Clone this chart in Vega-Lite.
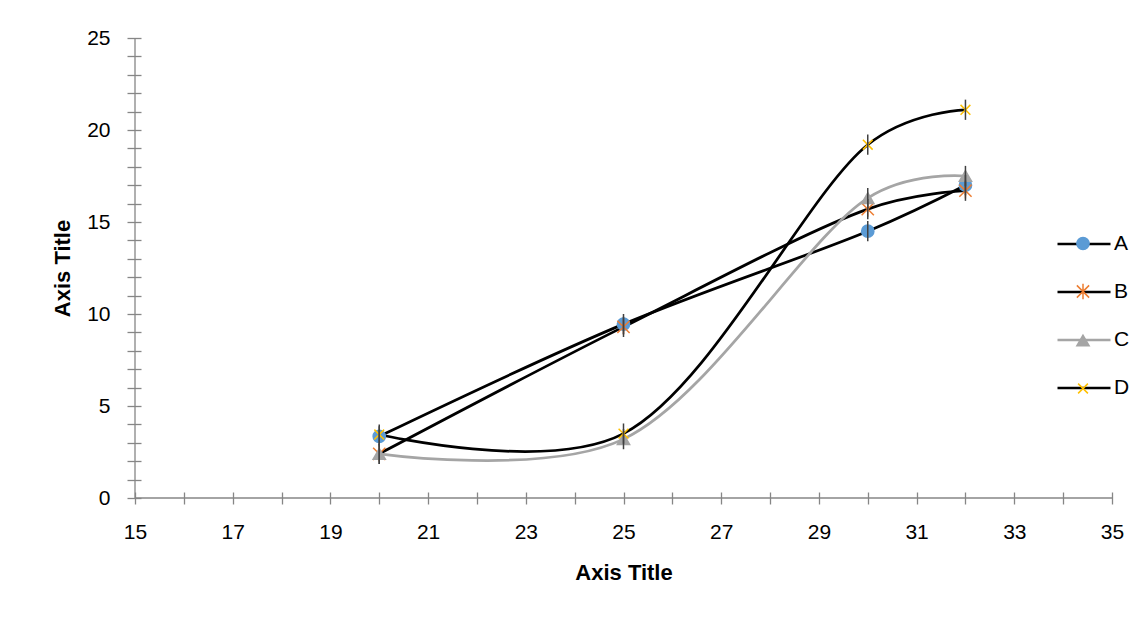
{
  "$schema": "https://vega.github.io/schema/vega-lite/v6.json",
  "width": 977,
  "height": 460,
  "autosize": "none",
  "padding": {"left": 135, "top": 38, "right": 33, "bottom": 121},
  "background": "white",
  "config": {"view": {"stroke": null}, "font": "Liberation Sans"},
  "data": {"values": [
    {"s": "A", "x": 20, "y": 3.35, "err": 0.55},
    {"s": "A", "x": 25, "y": 9.45, "err": 0.55},
    {"s": "A", "x": 30, "y": 14.5, "err": 0.55},
    {"s": "A", "x": 32, "y": 17.0, "err": 0.55},
    {"s": "B", "x": 20, "y": 2.4, "err": 0.55},
    {"s": "B", "x": 25, "y": 9.3, "err": 0.55},
    {"s": "B", "x": 30, "y": 15.7, "err": 0.55},
    {"s": "B", "x": 32, "y": 16.7, "err": 0.55},
    {"s": "C", "x": 20, "y": 2.4, "err": 0.55},
    {"s": "C", "x": 25, "y": 3.2, "err": 0.55},
    {"s": "C", "x": 30, "y": 16.3, "err": 0.55},
    {"s": "C", "x": 32, "y": 17.5, "err": 0.55},
    {"s": "D", "x": 20, "y": 3.45, "err": 0.55},
    {"s": "D", "x": 25, "y": 3.5, "err": 0.55},
    {"s": "D", "x": 30, "y": 19.2, "err": 0.55},
    {"s": "D", "x": 32, "y": 21.1, "err": 0.55}
  ]},
  "layer": [
    {
      "mark": {"type": "line", "interpolate": "catmull-rom", "tension": 0.3, "strokeWidth": 2.75},
      "encoding": {
        "x": {"field": "x", "type": "quantitative", "title": "Axis Title",
          "scale": {"domain": [15, 35], "nice": false, "zero": false},
          "axis": {"values": [15,16,17,18,19,20,21,22,23,24,25,26,27,28,29,30,31,32,33,34,35],
            "labelExpr": "datum.value % 2 == 1 ? datum.label : ''",
            "labelOverlap": false, "labelFlush": false, "grid": false, "domain": false,
            "offset": -6, "tickSize": 12, "tickColor": "#868686", "tickWidth": 1.3,
            "labelFontSize": 21, "labelColor": "#000", "labelPadding": 17,
            "titleFontSize": 22, "titleFontWeight": "bold", "titleColor": "#000", "titlePadding": 20}},
        "y": {"field": "y", "type": "quantitative", "title": "Axis Title",
          "scale": {"domain": [0, 25], "nice": false, "zero": true},
          "axis": {"values": [0,1,2,3,4,5,6,7,8,9,10,11,12,13,14,15,16,17,18,19,20,21,22,23,24,25],
            "tickCount": 26,
            "labelExpr": "datum.value % 5 == 0 ? datum.label : ''",
            "labelOverlap": false, "labelFlush": false, "grid": false, "domain": false,
            "offset": -6, "tickSize": 14, "tickColor": "#868686", "tickWidth": 1.3,
            "labelFontSize": 21, "labelColor": "#000", "labelPadding": 17,
            "titleFontSize": 22, "titleFontWeight": "bold", "titleColor": "#000", "titlePadding": 12}},
        "color": {"field": "s", "type": "nominal",
          "scale": {"domain": ["A", "B", "C", "D"], "range": ["#000000", "#000000", "#A5A5A5", "#000000"]},
          "legend": {"orient": "none", "legendX": 921, "legendY": 178, "title": null,
            "symbolType": "stroke", "symbolSize": 2809, "symbolStrokeWidth": 2.5,
            "labelFontSize": 21, "labelColor": "#000", "labelOffset": 2, "rowPadding": 10}}
      }
    },
    {
      "data": {"values": [{}]},
      "mark": {"type": "rule", "color": "#868686", "strokeWidth": 1.3},
      "encoding": {
        "x": {"datum": 15, "type": "quantitative", "title": "Axis Title"},
        "x2": {"datum": 35},
        "y": {"datum": 0, "type": "quantitative", "title": "Axis Title",
          "axis": {"values": [0,1,2,3,4,5,6,7,8,9,10,11,12,13,14,15,16,17,18,19,20,21,22,23,24,25],
            "tickCount": 26,
            "labelExpr": "datum.value % 5 == 0 ? datum.label : ''",
            "labelOverlap": false, "labelFlush": false, "grid": false, "domain": false,
            "offset": -6, "tickSize": 14, "tickColor": "#868686", "tickWidth": 1.3,
            "labelFontSize": 21, "labelColor": "#000", "labelPadding": 17,
            "titleFontSize": 22, "titleFontWeight": "bold", "titleColor": "#000", "titlePadding": 12}}
      }
    },
    {
      "data": {"values": [{}]},
      "mark": {"type": "rule", "color": "#868686", "strokeWidth": 1.3},
      "encoding": {
        "x": {"datum": 15, "type": "quantitative", "title": "Axis Title"},
        "y": {"datum": 0, "type": "quantitative", "title": "Axis Title"},
        "y2": {"datum": 25}
      }
    },
    {
      "mark": {"type": "point", "filled": true, "size": 150, "strokeWidth": 1.5, "opacity": 1},
      "encoding": {
        "x": {"field": "x", "type": "quantitative", "title": "Axis Title"},
        "y": {"field": "y", "type": "quantitative", "title": "Axis Title"},
        "fill": {"field": "s", "type": "nominal",
          "scale": {"range": ["#5B9BD5", "#ED7D31", "#A5A5A5", "#FFC000"]},
          "legend": {"orient": "none", "legendX": 937.5, "legendY": 195, "title": null,
            "symbolSize": 150, "symbolStrokeWidth": 1.5,
            "labelFontSize": 21, "labelColor": "transparent", "labelOffset": 4, "rowPadding": 26}},
        "stroke": {"field": "s", "type": "nominal",
          "scale": {"range": ["#5B9BD5", "#ED7D31", "#A5A5A5", "#FFC000"]},
          "legend": {"orient": "none", "legendX": 937.5, "legendY": 195, "title": null,
            "symbolSize": 150, "symbolStrokeWidth": 1.5,
            "labelFontSize": 21, "labelColor": "transparent", "labelOffset": 4, "rowPadding": 26}},
        "shape": {"field": "s", "type": "nominal",
          "scale": {"range": ["circle", "M-1,-1L1,1M-1,1L1,-1M0,-1.25V1.25", "triangle-up", "M-0.8,-0.8L0.8,0.8M-0.8,0.8L0.8,-0.8"]},
          "legend": {"orient": "none", "legendX": 937.5, "legendY": 195, "title": null,
            "symbolSize": 150, "symbolStrokeWidth": 1.5,
            "labelFontSize": 21, "labelColor": "transparent", "labelOffset": 4, "rowPadding": 26}}
      }
    },
    {
      "mark": {"type": "errorbar", "color": "#404040", "thickness": 1.5},
      "encoding": {
        "x": {"field": "x", "type": "quantitative", "title": "Axis Title"},
        "y": {"field": "y", "type": "quantitative", "title": "Axis Title",
          "axis": {"values": [0,1,2,3,4,5,6,7,8,9,10,11,12,13,14,15,16,17,18,19,20,21,22,23,24,25],
            "tickCount": 26,
            "labelExpr": "datum.value % 5 == 0 ? datum.label : ''",
            "labelOverlap": false, "labelFlush": false, "grid": false, "domain": false,
            "offset": -6, "tickSize": 14, "tickColor": "#868686", "tickWidth": 1.3,
            "labelFontSize": 21, "labelColor": "#000", "labelPadding": 17,
            "titleFontSize": 22, "titleFontWeight": "bold", "titleColor": "#000", "titlePadding": 12}},
        "yError": {"field": "err"}
      }
    }
  ]
}
